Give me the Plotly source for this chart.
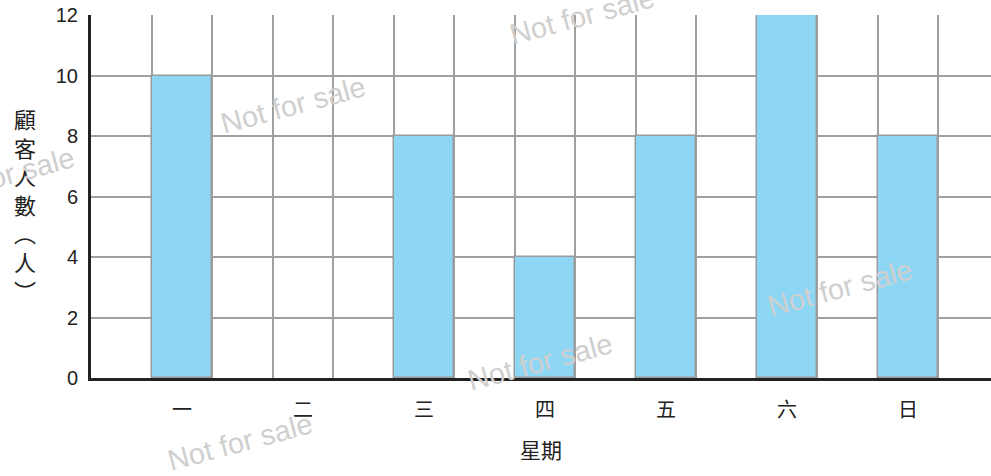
import plotly.graph_objects as go

categories = ["一", "二", "三", "四", "五", "六", "日"]
customers = [10, 0, 8, 4, 8, 12, 8]
y_ticks = [0, 2, 4, 6, 8, 10, 12]
y_title_chars = ["顧", "客", "人", "數", "︵", "人", "︶"]
x_title = "星期"
watermark = "Not for sale"

x_pos = list(range(len(categories)))

fig = go.Figure()
fig.add_trace(go.Bar(
    x=x_pos, y=customers, width=0.5,
    marker=dict(color="#8DD7F5",
                line=dict(color="#9a9a9a", width=[1.5 if v > 0 else 0 for v in customers])),
    showlegend=False,
))

W, H = 991, 476
L, R, T, B = 91, 0, 15, 98
pw, ph = W - L - R, H - T - B

def px(x):
    return (x - L) / pw

def py(y):
    return (H - B - y) / ph

annotations = [
    dict(text="<br>".join(y_title_chars), xref="paper", yref="paper",
         x=px(25), y=py(204), xanchor="center", yanchor="middle", showarrow=False,
         font=dict(family="Noto Sans CJK TC", size=22, color="#222"),
         align="center"),
]

wm_pos = [(293, 105), (582, 16), (2, 176), (540, 362), (240, 442), (840, 288)]
for (wx, wy) in wm_pos:
    annotations.append(dict(text=watermark, xref="paper", yref="paper",
                            x=px(wx), y=py(wy), xanchor="center", yanchor="middle",
                            showarrow=False, textangle=-15,
                            font=dict(family="Liberation Sans", size=29, color="#cfcfcf")))

fig.update_layout(
    width=W, height=H,
    margin=dict(l=L, r=R, t=T, b=B, autoexpand=False),
    paper_bgcolor="white", plot_bgcolor="white",
    bargap=0,
    annotations=annotations,
    xaxis=dict(
        range=[-0.752, 6.686], automargin=False,
        tickmode="array", tickvals=x_pos, ticktext=categories,
        showgrid=False, zeroline=False,
        showline=True, linecolor="#222", linewidth=3,
        ticks="", ticklabelstandoff=12,
        tickfont=dict(family="Noto Sans CJK TC", size=20, color="#222"),
        minor=dict(tickmode="linear", tick0=-0.25, dtick=0.5,
                   showgrid=True, gridcolor="#a0a0a0", gridwidth=2, ticks=""),
        title=dict(text=x_title, standoff=22,
                   font=dict(family="Noto Sans CJK TC", size=21, color="#222")),
    ),
    yaxis=dict(
        range=[0, 12], tickmode="array", tickvals=y_ticks, automargin=False,
        showgrid=True, gridcolor="#a0a0a0", gridwidth=2,
        zeroline=False,
        showline=True, linecolor="#222", linewidth=3,
        ticks="", ticklabelstandoff=6,
        tickfont=dict(family="Liberation Sans", size=20, color="#222"),
    ),
)

fig.write_html("out.html", config={"displayModeBar": False},
               post_script="document.body.style.margin='0';document.body.style.overflow='hidden';")
